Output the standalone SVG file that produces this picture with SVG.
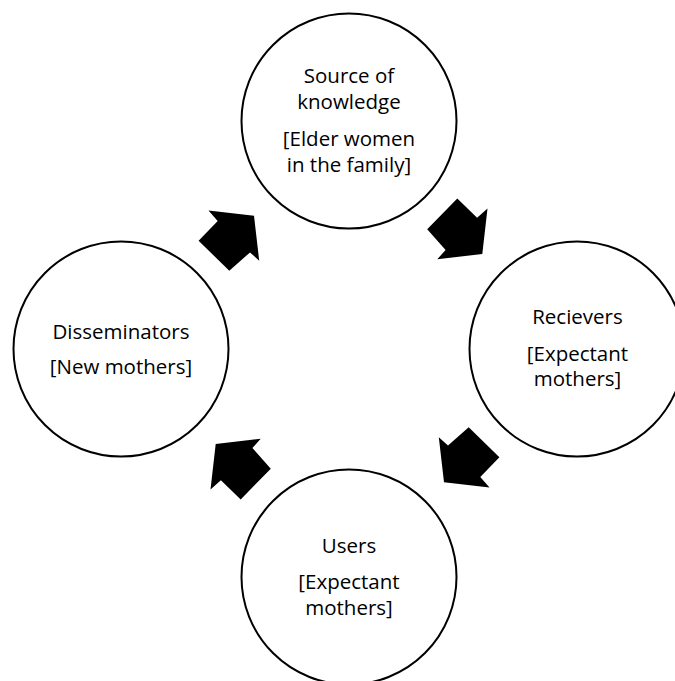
<svg xmlns="http://www.w3.org/2000/svg" width="675" height="681" viewBox="0 0 675 681">
  <style>
    .node circle { fill: #ffffff; stroke: #000000; stroke-width: 2; }
    .node text { font-family: "Open Sans", "Noto Sans", "Liberation Sans", sans-serif; font-size: 20.5px; fill: #000000; text-anchor: middle; }
    .arrow { fill: #000000; stroke: none; }
  </style>
  <defs>
    <polygon id="blockArrow" points="208.5,210.5 254,215.7 259.2,260.7 250,252.4 229.3,270.8 198.6,240.7 217.7,220.9"/>
  </defs>
  <rect x="0" y="0" width="675" height="681" fill="#ffffff"/>

  <g id="node-source" class="node">
    <circle cx="349" cy="121" r="107.5"/>
    <text x="349" y="83.3"><tspan x="349" y="83.3">Source of</tspan><tspan x="349" y="109">knowledge</tspan><tspan x="349" y="146.3">[Elder women</tspan><tspan x="349" y="172">in the family]</tspan></text>
  </g>

  <g id="node-receivers" class="node">
    <circle cx="577" cy="349" r="107.5"/>
    <text x="577.5" y="324"><tspan x="577.5" y="324">Recievers</tspan><tspan x="577.5" y="360.6">[Expectant</tspan><tspan x="577.5" y="386.4">mothers]</tspan></text>
  </g>

  <g id="node-users" class="node">
    <circle cx="349" cy="577" r="107.5"/>
    <text x="349" y="552.5"><tspan x="349" y="552.5">Users</tspan><tspan x="349" y="589.3">[Expectant</tspan><tspan x="349" y="615.1">mothers]</tspan></text>
  </g>

  <g id="node-disseminators" class="node">
    <circle cx="121" cy="349" r="107.5"/>
    <text x="121" y="338.5"><tspan x="121" y="338.5">Disseminators</tspan><tspan x="121" y="374.3">[New mothers]</tspan></text>
  </g>

  <g id="connectors">
    <use href="#blockArrow" class="arrow"/>
    <use href="#blockArrow" class="arrow" transform="rotate(90 349 349)"/>
    <use href="#blockArrow" class="arrow" transform="rotate(180 349 349)"/>
    <use href="#blockArrow" class="arrow" transform="rotate(270 349 349)"/>
  </g>
</svg>
